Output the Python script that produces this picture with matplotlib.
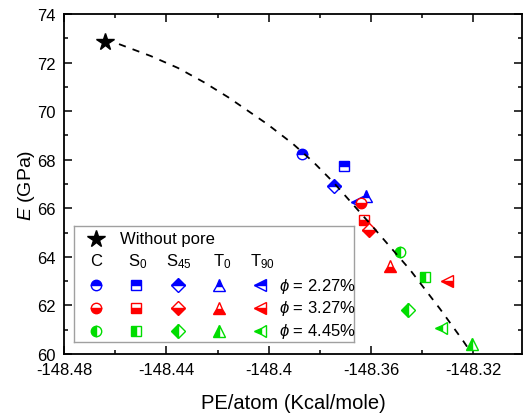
import matplotlib
matplotlib.use("Agg")
import matplotlib.pyplot as plt
from matplotlib.ticker import MultipleLocator, FuncFormatter

plt.rcParams["font.family"] = ["Liberation Sans", "DejaVu Sans"]
plt.rcParams["mathtext.fontset"] = "custom"
plt.rcParams["mathtext.rm"] = "Liberation Sans"
plt.rcParams["mathtext.it"] = "Liberation Sans:italic"
plt.rcParams["axes.unicode_minus"] = False

# ---- Data ----
configs = ["C", "S$_0$", "S$_{45}$", "T$_0$", "T$_{90}$"]
markers = ["o", "s", "D", "^", "<"]
marker_sizes = [7.5, 6.5, 7.5, 8, 8]

porosity_labels = ["$\\phi$ = 2.27%", "$\\phi$ = 3.27%", "$\\phi$ = 4.45%"]
colors = ["#0000FF", "#FF0000", "#00DD00"]
fillstyles = ["top", "bottom", "left"]

pe_227 = [-148.3869, -148.3705, -148.3744, -148.3619, -148.3654]
E_227 = [68.24, 67.74, 66.92, 66.51, 66.26]
pe_327 = [-148.3639, -148.3627, -148.3607, -148.3525, -148.3302]
E_327 = [66.22, 65.52, 65.11, 63.62, 63.01]
pe_445 = [-148.3486, -148.3388, -148.3455, -148.3205, -148.3326]
E_445 = [64.20, 63.17, 61.81, 60.41, 61.07]

pe_groups = [pe_227, pe_327, pe_445]
E_groups = [E_227, E_327, E_445]

pe_nopore = -148.464
E_nopore = 72.84

# dashed trend curve
curve_pe = [-148.4585, -148.4461, -148.4355, -148.4253, -148.4158, -148.4006,
            -148.3905, -148.3826, -148.3748, -148.3596, -148.3447, -148.3330,
            -148.3240, -148.3213]
curve_E = [72.76, 72.27, 71.78, 71.19, 70.57, 69.47, 68.65, 67.91, 67.08,
           65.27, 63.46, 61.85, 60.54, 60.12]

# ---- Plot ----
fig = plt.figure(figsize=(5.23, 4.14), dpi=100)
ax = fig.add_axes([64 / 523, 1 - 355 / 414, 458 / 523, 340 / 414])

ax.plot(curve_pe, curve_E, color="black", linestyle=(0, (4, 4)), linewidth=1.3, zorder=4)
ax.plot(pe_nopore, E_nopore, marker="*", color="black", markersize=13, linestyle="none", zorder=3)

for pe, E, c, fs in zip(pe_groups, E_groups, colors, fillstyles):
    for x, y, m, ms in zip(pe, E, markers, marker_sizes):
        ax.plot(x, y, marker=m, markersize=ms, fillstyle=fs, color=c,
                markerfacecoloralt="white", markeredgecolor=c, markeredgewidth=1.0,
                linestyle="none", zorder=3)

ax.set_xlim(-148.48, -148.301)
ax.set_ylim(60, 74)
ax.xaxis.set_major_locator(MultipleLocator(0.04))
ax.xaxis.set_minor_locator(MultipleLocator(0.02))
ax.yaxis.set_major_locator(MultipleLocator(2))
ax.yaxis.set_minor_locator(MultipleLocator(1))
ax.xaxis.set_major_formatter(FuncFormatter(lambda v, p: f"{v:g}"))
ax.tick_params(which="both", direction="in", top=True, right=True, labelsize=12, pad=6)
ax.tick_params(which="major", length=6, width=1.1)
ax.tick_params(which="minor", length=3, width=1.1)
for s in ax.spines.values():
    s.set_linewidth(1.3)

ax.set_xlabel("PE/atom (Kcal/mole)", fontsize=14.5, labelpad=11)
ax.set_ylabel("$\\it{E}$ (GPa)", fontsize=14, labelpad=0)

# ---- Custom legend box ----
lg = fig.add_axes([74 / 523, 1 - 343 / 414, 280 / 523, 116 / 414], zorder=5)
lg.set_xlim(0, 280)
lg.set_ylim(116, 0)
lg.set_xticks([])
lg.set_yticks([])
for s in lg.spines.values():
    s.set_color("#A0A0A0")
    s.set_linewidth(1.0)

lg.plot(22, 12.5, marker="*", color="black", markersize=13, linestyle="none")
lg.text(46, 12.5, "Without pore", fontsize=12, va="center", ha="left")

col_x = [22, 62, 104, 145, 186]
head_x = [22, 64, 105, 148, 188]
for hx, name in zip(head_x, configs):
    lg.text(hx, 35, name, fontsize=12, va="center", ha="center")

row_y = [59, 82, 105]
for ry, c, fs, lab in zip(row_y, colors, fillstyles, porosity_labels):
    for cx, m, ms in zip(col_x, markers, marker_sizes):
        lg.plot(cx, ry, marker=m, markersize=ms, fillstyle=fs, color=c,
                markerfacecoloralt="white", markeredgecolor=c, markeredgewidth=1.0,
                linestyle="none")
    lg.text(205, ry, lab, fontsize=12, va="center", ha="left")

fig.savefig("out.png", dpi=100)
